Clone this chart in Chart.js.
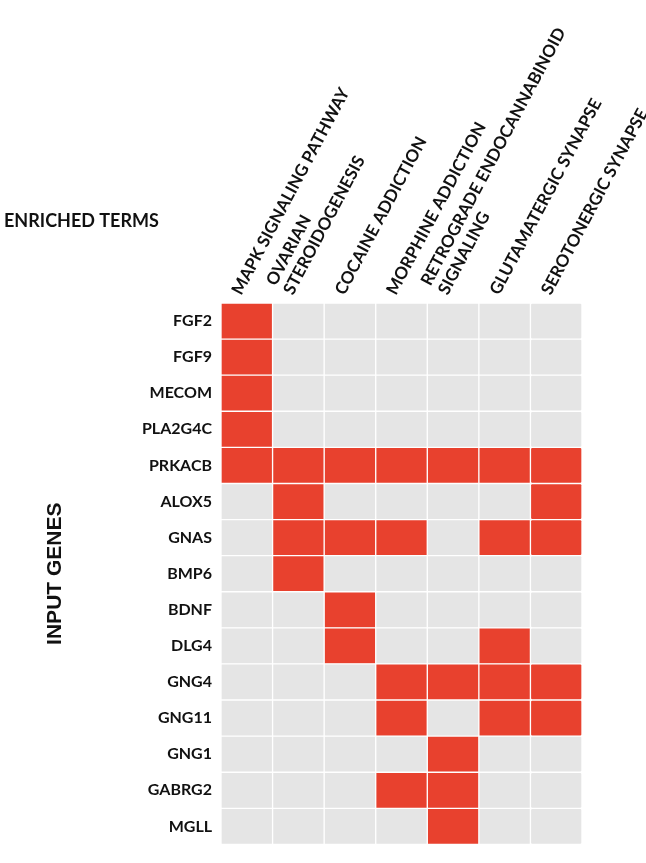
<!DOCTYPE html>
<html>
<head>
<meta charset="utf-8">
<script src="https://cdn.jsdelivr.net/npm/chart.js@4.4.1/dist/chart.umd.min.js"></script>
<style>
  html, body { margin: 0; padding: 0; background: #fff; }
  #wrap { width: 646px; height: 863px; }
</style>
</head>
<body>
<div id="wrap"><canvas id="heatmap"></canvas></div>
<script>
var genes = ['FGF2', 'FGF9', 'MECOM', 'PLA2G4C', 'PRKACB', 'ALOX5', 'GNAS', 'BMP6',
             'BDNF', 'DLG4', 'GNG4', 'GNG11', 'GNG1', 'GABRG2', 'MGLL'];
var terms = [
    'MAPK SIGNALING PATHWAY',
    ['OVARIAN', 'STEROIDOGENESIS'],
    'COCAINE ADDICTION',
    'MORPHINE ADDICTION',
    ['RETROGRADE ENDOCANNABINOID', 'SIGNALING'],
    'GLUTAMATERGIC SYNAPSE',
    'SEROTONERGIC SYNAPSE'
];

// 1 = gene found in the term (same order as genes)
var mapk          = [1,1,1,1,1,0,0,0,0,0,0,0,0,0,0];
var ovarian       = [0,0,0,0,1,1,1,1,0,0,0,0,0,0,0];
var cocaine       = [0,0,0,0,1,0,1,0,1,1,0,0,0,0,0];
var morphine      = [0,0,0,0,1,0,1,0,0,0,1,1,0,1,0];
var retrograde    = [0,0,0,0,1,0,0,0,0,0,1,0,1,1,1];
var glutamatergic = [0,0,0,0,1,0,1,0,0,1,1,1,0,0,0];
var serotonergic  = [0,0,0,0,1,1,1,0,0,0,1,1,0,0,0];

var memberships = [mapk, ovarian, cocaine, morphine, retrograde, glutamatergic, serotonergic];

var RED = '#e8412e';
var GRAY = '#e5e5e5';

// each term is one stacked segment per gene row, so the cells line up as a grid
var datasets = memberships.map(function (m, i) {
    return {
        label: Array.isArray(terms[i]) ? terms[i].join(' ') : terms[i],
        data: genes.map(function () { return 1; }),
        backgroundColor: m.map(function (v) { return v ? RED : GRAY; }),
        borderColor: '#ffffff',
        borderWidth: 1,
        borderSkipped: false,
        borderRadius: 2,
        barPercentage: 1,
        categoryPercentage: 1
    };
});

var cornerTitle = {
    id: 'cornerTitle',
    afterDraw: function (chart) {
        var ctx = chart.ctx;
        ctx.save();
        ctx.font = 'bold 18px Lato';
        ctx.fillStyle = '#111';
        ctx.textBaseline = 'middle';
        ctx.textAlign = 'left';
        ctx.fillText('ENRICHED TERMS', 4, 221);
        ctx.restore();
    }
};

new Chart(document.getElementById('heatmap').getContext('2d'), {
    type: 'bar',
    data: { labels: genes, datasets: datasets },
    plugins: [cornerTitle],
    options: {
        indexAxis: 'y',
        responsive: true,
        maintainAspectRatio: false,
        animation: false,
        layout: { padding: { left: 43, right: 64, top: 0, bottom: 6 } },
        plugins: {
            legend: { display: false },
            tooltip: { enabled: false }
        },
        scales: {
            x: {
                type: 'linear',
                stacked: true,
                min: 0,
                max: terms.length,
                display: false
            },
            x2: {
                type: 'category',
                labels: terms,
                position: 'top',
                offset: true,
                grid: { display: false, drawTicks: false },
                border: { display: false },
                ticks: {
                    color: '#111',
                    font: { family: 'Lato', weight: 'bold', size: 17, lineHeight: 1.15 },
                    minRotation: 62,
                    maxRotation: 62,
                    padding: 5,
                    labelOffset: 7,
                    autoSkip: false
                },
                afterFit: function (scale) {
                    scale.height = 303;
                    scale.paddingLeft = 0;
                    scale.paddingRight = 0;
                }
            },
            y: {
                type: 'category',
                stacked: true,
                grid: { display: false, drawTicks: false },
                border: { display: false },
                ticks: {
                    color: '#111',
                    font: { family: 'Lato', weight: 'bold', size: 16 },
                    padding: 9,
                    autoSkip: false
                },
                title: {
                    display: true,
                    text: 'INPUT GENES',
                    color: '#111',
                    font: { family: 'Liberation Sans', weight: 'bold', size: 21 },
                    padding: 0
                },
                afterFit: function (scale) {
                    scale.width = 221 - 43;
                }
            }
        }
    }
});
</script>
</body>
</html>
